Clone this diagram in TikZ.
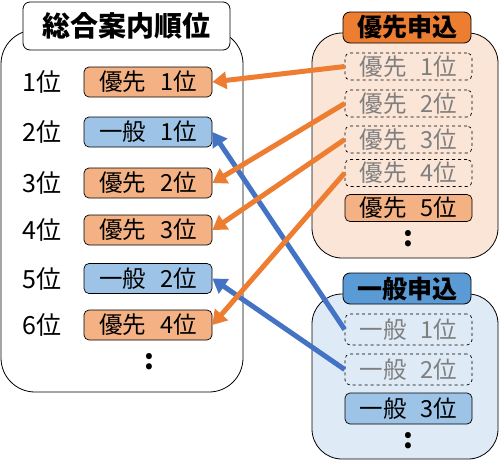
\documentclass[tikz,border=0pt]{standalone}
\usepackage{fontspec}
\setmainfont{Noto Sans CJK JP}
\usetikzlibrary{arrows.meta}
\definecolor{orgD}{HTML}{ED7D31}
\definecolor{orgM}{HTML}{F4B183}
\definecolor{orgL}{HTML}{FBE5D6}
\definecolor{bluD}{HTML}{5B9BD5}
\definecolor{bluM}{HTML}{9DC3E6}
\definecolor{bluL}{HTML}{DEEBF7}
\definecolor{bluA}{HTML}{4472C4}
\definecolor{txtG}{HTML}{7F7F7F}
\newcommand{\rgap}{\hspace{0.6em}}
\tikzset{
  panel/.style={draw=black, line width=0.8pt, rounded corners=34pt},
  ttl/.style={draw=black, line width=0.8pt, rounded corners=7pt, inner sep=0pt, font=\fontsize{28}{28}\selectfont\bfseries},
  rank/.style={draw=black, line width=0.7pt, rounded corners=5pt, minimum width=128pt, minimum height=30pt, inner sep=0pt, font=\fontsize{23.5}{23.5}\selectfont},
  rankO/.style={rank, fill=orgM},
  rankB/.style={rank, fill=bluM},
  done/.style={draw=black, dashed, line width=0.7pt, rounded corners=5pt, minimum width=127pt, inner sep=0pt, text=txtG, font=\fontsize{23.5}{23.5}\selectfont},
  lbl/.style={font=\fontsize{25}{25}\selectfont, inner sep=0pt},
  dots/.style={font=\fontsize{28}{28}\selectfont\bfseries, inner sep=0pt},
  arO/.style={draw=orgD, line width=5pt, -{Triangle[length=14pt,width=17pt]}},
  arB/.style={draw=bluA, line width=5pt, -{Triangle[length=14pt,width=17pt]}}
}
\begin{document}
\begin{tikzpicture}[x=1pt,y=-1pt]
\useasboundingbox (0,0) rectangle (500,463);
% left panel
\draw[panel, fill=white] (1,30) rectangle (243,392);
\node[ttl, fill=white, minimum width=207pt, minimum height=48pt] (t) at (126.5,26) {総合案内順位};
\foreach \i/\y in {1/82,2/132,3/183,4/230,5/278.5,6/325}{
  \node[lbl] (l\i) at (42,\y) {\i 位};
}
\node[rankO] (g1) at (148,82) {優先\rgap 1位};
\node[rankB] (g2) at (148,132) {一般\rgap 1位};
\node[rankO] (g3) at (148,183) {優先\rgap 2位};
\node[rankO] (g4) at (148,230) {優先\rgap 3位};
\node[rankB] (g5) at (148,278.5) {一般\rgap 2位};
\node[rankO] (g6) at (148,325) {優先\rgap 4位};
\node[dots] (d0) at (149,362) {:};
% orange panel
\draw[panel, fill=orgL, rounded corners=30pt] (312,33) rectangle (498,258);
\node[ttl, fill=orgD, minimum width=128pt, minimum height=31pt, font=\fontsize{25}{25}\selectfont\bfseries] (to) at (407,27.5) {優先申込};
\node[done, minimum height=27pt] (p1) at (408.5,66.5) {優先\rgap 1位};
\node[done, minimum height=27pt] (p2) at (408.5,103.5) {優先\rgap 2位};
\node[done, minimum height=27pt] (p3) at (408.5,139.5) {優先\rgap 3位};
\node[done, minimum height=27pt] (p4) at (408.5,173) {優先\rgap 4位};
\node[rank, fill=orgM, minimum width=127pt, minimum height=27pt] (p5) at (408.5,208) {優先\rgap 5位};
\node[dots] (d1) at (408,239) {:};
% blue panel
\draw[panel, fill=bluL, rounded corners=30pt] (312,294) rectangle (498,459);
\node[ttl, fill=bluD, minimum width=128pt, minimum height=31pt, font=\fontsize{25}{25}\selectfont\bfseries] (tb) at (407,288.5) {一般申込};
\node[done, minimum height=31pt] (b1) at (408.5,329.5) {一般\rgap 1位};
\node[done, minimum height=31pt] (b2) at (408.5,369.5) {一般\rgap 2位};
\node[rank, fill=bluM, minimum width=127pt, minimum height=31pt] (b3) at (408.5,408.5) {一般\rgap 3位};
\node[dots] (d2) at (408,441) {:};
% arrows
\draw[arB] (b1.west) -- (g2.east);
\draw[arB] (b2.west) -- (g5.east);
\draw[arO] (p1.west) -- (g1.east);
\draw[arO] (p2.west) -- (g3.east);
\draw[arO] (p3.west) -- (g4.east);
\draw[arO] (p4.west) -- (g6.east);
\end{tikzpicture}
\end{document}
